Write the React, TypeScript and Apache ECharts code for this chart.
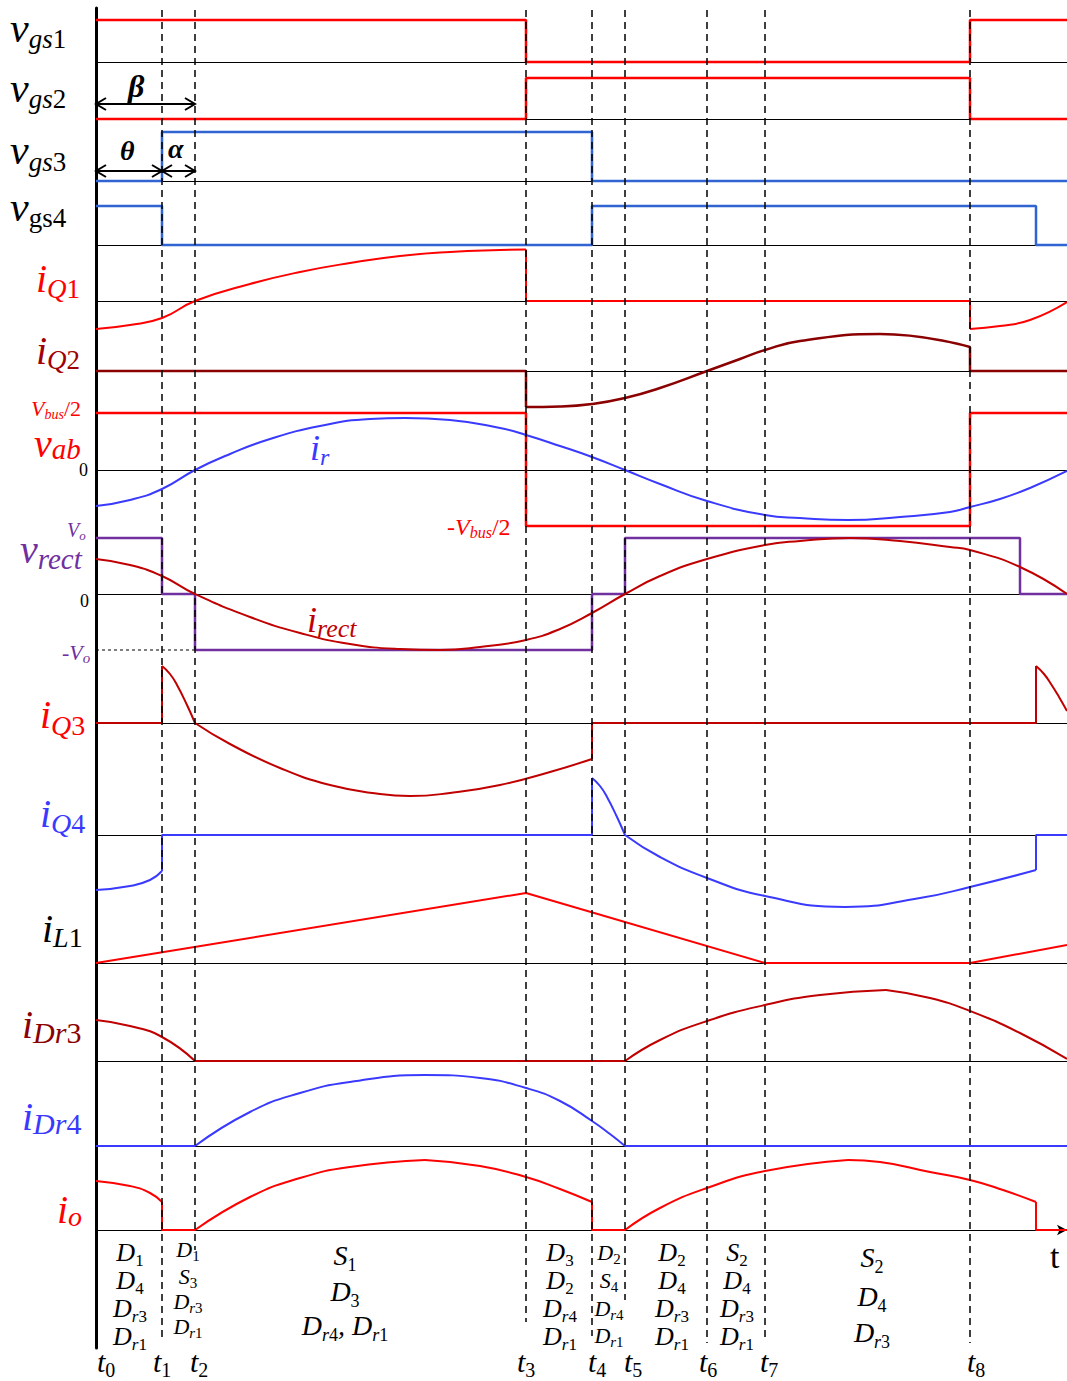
import React, { useEffect, useRef } from 'react';
import * as echarts from 'echarts';

// ---------------- data ----------------
// time instants t0..t8 (time units; t0 at the left axis)
const timePoints = [0, 66, 99, 430, 496, 529, 611, 669, 874];
const timeLabels = ['t_0', 't_1', 't_2', 't_3', 't_4', 't_5', 't_6', 't_7', 't_8'];
const timeEnd = 971;

// row names and the page height of each row's zero line
const rowNames = ['vgs1', 'vgs2', 'vgs3', 'vgs4', 'iQ1', 'iQ2', 'vab', 'vrect', 'iQ3', 'iQ4', 'iL1', 'iDr3', 'iDr4', 'io'];
const rowBaselines = [62, 119, 181, 245, 301, 371, 470, 594, 723, 835, 963, 1061, 1146, 1230];

// gate signals
const vgs1Wave = [[0, 42], [430, 42], [430, 0], [874, 0], [874, 42], [971, 42]];
const vgs2Wave = [[0, 0], [430, 0], [430, 41], [874, 41], [874, 0], [971, 0]];
const vgs3Wave = [[0, 0], [66, 0], [66, 49], [496, 49], [496, 0], [971, 0]];
const vgs4Wave = [[0, 39], [66, 39], [66, 0], [496, 0], [496, 39], [940, 39], [940, 0], [971, 0]];

// iQ1
const iQ1CurveA = [[0, -28], [34, -24], [66, -17], [99, 0], [154, 17], [204, 29], [254, 38], [304, 45], [354, 49], [404, 51], [430, 51.5]];
const iQ1Step = [[430, 51.5], [430, 0], [874, 0], [874, -28]];
const iQ1CurveB = [[874, -28], [904, -25], [934, -19], [971, -1]];

// iQ2
const iQ2Step1 = [[0, 0], [430, 0], [430, -36]];
const iQ2Curve = [[430, -36], [464, -35.5], [496, -33], [529, -27], [564, -17], [611, 0], [644, 12], [669, 21], [704, 30], [784, 37], [874, 24]];
const iQ2Step2 = [[874, 24], [874, 0], [971, 0]];

// vab and ir
const vabWave = [[0, 57], [430, 57], [430, -56], [874, -56], [874, 57], [971, 57]];
const irCurve = [[0, -36], [34, -30], [66, -19], [99, 0], [134, 16], [174, 31], [224, 44], [274, 51], [309, 52], [354, 50], [404, 42], [430, 35], [464, 24], [496, 13], [529, 0], [564, -14], [611, -31], [669, -45], [704, -48], [752, -50], [804, -47], [854, -42], [874, -37], [904, -29], [934, -18], [971, -1]];

// vrect and irect
const vrectWave = [[0, 56], [66, 56], [66, 0], [99, 0], [99, -56], [496, -56], [496, 0], [529, 0], [529, 56], [924, 56], [924, 0], [971, 0]];
const voGuide = [[0, -56], [99, -56]];
const irectCurve = [[0, 35], [34, 29], [66, 18], [99, 0], [154, -23], [204, -39], [254, -50], [304, -55], [344, -56], [384, -53], [430, -46], [464, -35], [496, -19], [529, 0], [564, 18], [611, 35], [669, 49], [704, 53], [754, 56], [804, 53], [854, 47], [874, 44], [924, 27], [971, 0]];

// iQ3
const iQ3Step1 = [[0, 0], [66, 0], [66, 57]];
const iQ3CurveA = [[66, 57], [74, 49], [81, 38], [91, 18], [99, 0]];
const iQ3CurveB = [[99, 0], [134, -21], [184, -45], [234, -62], [284, -71], [314, -73], [354, -70], [404, -62], [454, -49], [496, -36]];
const iQ3Step2 = [[496, -36], [496, 0], [940, 0], [940, 57]];
const iQ3CurveC = [[940, 57], [948, 49], [955, 39], [963, 26], [971, 12]];

// iQ4
const iQ4CurveA = [[0, -55], [34, -51], [54, -45], [66, -36]];
const iQ4Step1 = [[66, -36], [66, 0], [496, 0], [496, 57]];
const iQ4CurveB = [[496, 57], [504, 49], [511, 38], [521, 18], [529, 0]];
const iQ4CurveC = [[529, 0], [564, -22], [611, -43], [669, -61], [749, -72], [824, -63], [874, -52], [940, -35]];
const iQ4Step2 = [[940, -35], [940, 0], [971, 0]];

// iL1
const iL1Wave = [[0, 0], [430, 70], [669, 0], [874, 0], [971, 18]];

// iDr3
const iDr3CurveA = [[0, 41], [34, 35], [66, 24], [99, 0]];
const iDr3Flat = [[99, 0], [529, 0]];
const iDr3CurveB = [[529, 0], [564, 21], [611, 40], [669, 56], [724, 66], [790, 71]];
const iDr3CurveC = [[790, 71], [834, 63], [874, 50], [924, 28], [971, 2]];

// iDr4
const iDr4Flat1 = [[0, 0], [99, 0]];
const iDr4Curve = [[99, 0], [154, 34], [204, 53], [254, 64], [329, 71], [384, 68], [430, 58], [464, 45], [496, 25], [514, 12], [529, 0]];
const iDr4Flat2 = [[529, 0], [971, 0]];

// io
const ioCurveA = [[0, 49], [34, 44], [54, 37], [66, 28]];
const ioStep1 = [[66, 28], [66, 0], [99, 0]];
const ioCurveB = [[99, 0], [154, 33], [204, 52], [254, 63], [329, 70]];
const ioCurveC = [[329, 70], [384, 64], [430, 53], [464, 41], [496, 28]];
const ioStep2 = [[496, 28], [496, 0], [529, 0]];
const ioCurveD = [[529, 0], [564, 22], [611, 42], [669, 59], [752, 70]];
const ioCurveE = [[752, 70], [784, 68], [834, 58], [874, 50], [907, 40], [940, 28]];
const ioStep3 = [[940, 28], [940, 0], [971, 0]];

// ---------------- styles / layout ----------------
const X0 = 96;
const SPAN = 971;
const RED = '#ff0000';
const DARKRED = '#8b0000';
const CRIMSON = '#c00000';
const BLUE_G = '#2f64d2';
const BLUE = '#3a3aff';
const PURPLE = '#7030a0';
const BLACK = '#000000';
const FONT = '"Liberation Serif", "Times New Roman", serif';

const rowExtent = rowNames.map((_, i) => (i === 0 ? { up: 50, down: 60 } : { up: 80, down: 80 }));

type Piece = [number[][], boolean];
interface Wave { row: number; color: string; width: number; pieces: Piece[]; dash?: number[]; z?: number }

const waves: Wave[] = [
  { row: 0, color: RED, width: 2.5, pieces: [[vgs1Wave, false]] },
  { row: 1, color: RED, width: 2.5, pieces: [[vgs2Wave, false]] },
  { row: 2, color: BLUE_G, width: 2.5, pieces: [[vgs3Wave, false]] },
  { row: 3, color: BLUE_G, width: 2.5, pieces: [[vgs4Wave, false]] },
  { row: 4, color: RED, width: 2, pieces: [[iQ1CurveA, true], [iQ1Step, false], [iQ1CurveB, true]] },
  { row: 5, color: DARKRED, width: 2.5, pieces: [[iQ2Step1, false], [iQ2Curve, true], [iQ2Step2, false]] },
  { row: 6, color: RED, width: 2.5, pieces: [[vabWave, false]] },
  { row: 6, color: BLUE, width: 2, pieces: [[irCurve, true]], z: 4 },
  { row: 7, color: BLACK, width: 1, dash: [3, 3], pieces: [[voGuide, false]] },
  { row: 7, color: PURPLE, width: 2.5, pieces: [[vrectWave, false]] },
  { row: 7, color: CRIMSON, width: 2, pieces: [[irectCurve, true]], z: 4 },
  { row: 8, color: CRIMSON, width: 2, pieces: [[iQ3Step1, false], [iQ3CurveA, true], [iQ3CurveB, true], [iQ3Step2, false], [iQ3CurveC, true]] },
  { row: 9, color: BLUE, width: 2, pieces: [[iQ4CurveA, true], [iQ4Step1, false], [iQ4CurveB, true], [iQ4CurveC, true], [iQ4Step2, false]] },
  { row: 10, color: RED, width: 2, pieces: [[iL1Wave, false]] },
  { row: 11, color: CRIMSON, width: 2, pieces: [[iDr3CurveA, true], [iDr3Flat, false], [iDr3CurveB, true], [iDr3CurveC, true]] },
  { row: 12, color: BLUE, width: 2, pieces: [[iDr4Flat1, false], [iDr4Curve, true], [iDr4Flat2, false]] },
  { row: 13, color: RED, width: 2, pieces: [[ioCurveA, true], [ioStep1, false], [ioCurveB, true], [ioCurveC, true], [ioStep2, false], [ioCurveD, true], [ioCurveE, true], [ioStep3, false]] },
];

// page y where each dashed line (t1..t8) stops
const dashBottoms = [1337, 1250, 1322, 1336, 1300, 1343, 1340, 1343];

// ---------------- text helpers ----------------
let measureCtx: CanvasRenderingContext2D | null = null;
function fontStr(size: number, italic: boolean, bold = false) {
  return `${italic ? 'italic ' : ''}${bold ? 'bold ' : ''}${size}px ${FONT}`;
}
function measure(text: string, font: string) {
  if (!measureCtx) measureCtx = document.createElement('canvas').getContext('2d');
  if (!measureCtx) return text.length * 10;
  measureCtx.font = font;
  return measureCtx.measureText(text).width;
}
function parseFormula(str: string): [string, boolean][] {
  const out: [string, boolean][] = [];
  const re = /_([A-Za-z0-9]+)/g;
  let last = 0;
  let m: RegExpExecArray | null;
  while ((m = re.exec(str))) {
    if (m.index > last) out.push([str.slice(last, m.index), false]);
    out.push([m[1], true]);
    last = re.lastIndex;
  }
  if (last < str.length) out.push([str.slice(last), false]);
  return out;
}
function textEl(x: number, base: number, text: string, size: number, italic: boolean, color: string, bold = false) {
  const font = fontStr(size, italic, bold);
  return {
    type: 'text', x, y: base - 0.34 * size, z: 20, silent: true,
    style: { text, font, fill: color, align: 'left', verticalAlign: 'middle', textAlign: 'left', textVerticalAlign: 'middle' },
  };
}
function formula(x: number, base: number, color: string, str: string, size: number, subSize: number, dy: number,
  align: 'left' | 'center' = 'left', subUpright = false) {
  const parts: { t: string; size: number; italic: boolean; dy: number }[] = [];
  parseFormula(str).forEach(([t, isSub]) => {
    const runs = t.match(/[0-9\/]+|[^0-9\/]+/g) || [];
    runs.forEach((r) => {
      const upright = /^[0-9\/]+$/.test(r) || (isSub && subUpright);
      parts.push({ t: r, size: isSub ? subSize : size, italic: !upright, dy: isSub ? dy : 0 });
    });
  });
  const widths = parts.map((p) => measure(p.t, fontStr(p.size, p.italic)));
  const total = widths.reduce((a, b) => a + b, 0);
  let cx = align === 'center' ? x - total / 2 : x;
  return parts.map((p, i) => {
    const el = textEl(cx, base + p.dy, p.t, p.size, p.italic, color);
    cx += widths[i];
    return el;
  });
}

const leftLabels = [
  { x: 10, base: 42, color: BLACK, s: 'v_gs1', size: 42, sub: 27, dy: 6 },
  { x: 10, base: 102, color: BLACK, s: 'v_gs2', size: 42, sub: 27, dy: 6 },
  { x: 10, base: 164, color: BLACK, s: 'v_gs3', size: 42, sub: 27, dy: 7 },
  { x: 10, base: 221, color: BLACK, s: 'v_gs4', size: 42, sub: 27, dy: 6, up: true },
  { x: 36, base: 292, color: RED, s: 'i_Q1', size: 40, sub: 27, dy: 6 },
  { x: 36, base: 364, color: '#a00000', s: 'i_Q2', size: 40, sub: 27, dy: 5 },
  { x: 31, base: 416, color: RED, s: 'V_bus/2', size: 22, sub: 14, dy: 3 },
  { x: 34, base: 457, color: RED, s: 'v_ab', size: 40, sub: 29, dy: 2 },
  { x: 79, base: 476, color: BLACK, s: '0', size: 18, sub: 12, dy: 0 },
  { x: 67, base: 537, color: PURPLE, s: 'V_o', size: 20, sub: 13, dy: 3 },
  { x: 20, base: 563, color: PURPLE, s: 'v_rect', size: 40, sub: 29, dy: 6 },
  { x: 80, base: 607, color: BLACK, s: '0', size: 18, sub: 12, dy: 0 },
  { x: 62, base: 660, color: PURPLE, s: '-V_o', size: 22, sub: 15, dy: 3 },
  { x: 40, base: 728, color: RED, s: 'i_Q3', size: 40, sub: 28, dy: 7 },
  { x: 40, base: 827, color: BLUE, s: 'i_Q4', size: 40, sub: 28, dy: 6 },
  { x: 42, base: 942, color: BLACK, s: 'i_L1', size: 40, sub: 28, dy: 5 },
  { x: 22, base: 1038, color: DARKRED, s: 'i_Dr3', size: 40, sub: 30, dy: 5 },
  { x: 22, base: 1130, color: BLUE, s: 'i_Dr4', size: 40, sub: 30, dy: 4 },
  { x: 57, base: 1223, color: RED, s: 'i_o', size: 40, sub: 28, dy: 3 },
  { x: 310, base: 460, color: BLUE, s: 'i_r', size: 36, sub: 24, dy: 5 },
  { x: 307, base: 632, color: CRIMSON, s: 'i_rect', size: 36, sub: 26, dy: 5 },
  { x: 447, base: 535, color: RED, s: '-V_bus/2', size: 24, sub: 16, dy: 3 },
];

const modeColumns = [
  { cx: 130, size: 26, lines: ['D_1', 'D_4', 'D_r3', 'D_r1'], bases: [1261, 1289, 1317, 1345] },
  { cx: 188, size: 22, lines: ['D_1', 'S_3', 'D_r3', 'D_r1'], bases: [1257, 1284, 1309, 1334] },
  { cx: 345, size: 28, lines: ['S_1', 'D_3', 'D_r4, D_r1'], bases: [1265, 1301, 1335] },
  { cx: 560, size: 26, lines: ['D_3', 'D_2', 'D_r4', 'D_r1'], bases: [1261, 1289, 1317, 1345] },
  { cx: 609, size: 22, lines: ['D_2', 'S_4', 'D_r4', 'D_r1'], bases: [1260, 1288, 1316, 1343] },
  { cx: 672, size: 26, lines: ['D_2', 'D_4', 'D_r3', 'D_r1'], bases: [1261, 1289, 1317, 1345] },
  { cx: 737, size: 26, lines: ['S_2', 'D_4', 'D_r3', 'D_r1'], bases: [1261, 1289, 1317, 1345] },
  { cx: 872, size: 28, lines: ['S_2', 'D_4', 'D_r3'], bases: [1267, 1306, 1342] },
];

const timeLabelLeft = [97, 153, 190, 517, 588, 624, 699, 760, 967];

function chevron(tipX: number, y: number, dir: number) {
  return {
    type: 'polyline', z: 20, silent: true,
    shape: { points: [[tipX - dir * 10, y - 6], [tipX, y], [tipX - dir * 10, y + 6]] },
    style: { stroke: BLACK, lineWidth: 2, fill: 'none' },
  };
}
function hline(x1: number, x2: number, y: number) {
  return { type: 'line', z: 20, silent: true, shape: { x1, y1: y, x2, y2: y }, style: { stroke: BLACK, lineWidth: 2 } };
}

function buildOption() {
  const grid: any[] = [];
  const xAxis: any[] = [];
  const yAxis: any[] = [];
  const series: any[] = [];
  const hidden = { axisTick: { show: false }, axisLabel: { show: false }, splitLine: { show: false } };

  rowBaselines.forEach((base, i) => {
    const ext = rowExtent[i];
    grid.push({ left: X0, width: SPAN, top: base - ext.up, height: ext.up + ext.down, containLabel: false, outerBoundsMode: 'none' });
    xAxis.push({
      type: 'value', gridIndex: i, min: 0, max: timeEnd, ...hidden,
      axisLine: {
        show: true, onZero: true, lineStyle: { color: BLACK, width: 1 },
        symbol: i === rowBaselines.length - 1 ? ['none', 'arrow'] : ['none', 'none'], symbolSize: [8, 10],
      },
    });
    yAxis.push({ type: 'value', gridIndex: i, min: -ext.down, max: ext.up, ...hidden, axisLine: { show: false } });
  });

  // overlay grid: thick time axis and dashed instants
  const ov = rowBaselines.length;
  const ovTop = 8;
  const ovBottom = 1348;
  grid.push({ left: X0, width: SPAN, top: ovTop, height: ovBottom - ovTop, containLabel: false, outerBoundsMode: 'none' });
  xAxis.push({ type: 'value', gridIndex: ov, min: 0, max: timeEnd, show: false });
  yAxis.push({
    type: 'value', gridIndex: ov, min: 0, max: ovBottom - ovTop, inverse: true, ...hidden,
    axisLine: { show: true, onZero: false, lineStyle: { color: BLACK, width: 3 } },
  });

  waves.forEach((w) => {
    w.pieces.forEach(([data, smooth]) => {
      series.push({
        type: 'line', xAxisIndex: w.row, yAxisIndex: w.row, data,
        smooth: smooth ? 0.5 : false,
        symbol: 'none', showSymbol: false, silent: true, clip: false, z: w.z ?? 3,
        emphasis: { disabled: true },
        lineStyle: { color: w.color, width: w.width, type: w.dash ?? 'solid' },
      });
    });
  });

  series.push({
    type: 'line', xAxisIndex: ov, yAxisIndex: ov, data: [[0, 0]], symbol: 'none', showSymbol: false,
    lineStyle: { opacity: 0 }, silent: true, z: 6,
    markLine: {
      silent: true, symbol: ['none', 'none'], label: { show: false },
      lineStyle: { type: [7, 5], color: BLACK, width: 1.5 },
      emphasis: { disabled: true },
      data: timePoints.slice(1).map((t, i) => [
        { coord: [t, 2] },
        { coord: [t, dashBottoms[i] - ovTop] },
      ]),
    },
  });

  const graphic: any[] = [];
  leftLabels.forEach((l: any) => graphic.push(...formula(l.x, l.base, l.color, l.s, l.size, l.sub, l.dy, 'left', !!l.up)));
  modeColumns.forEach((c) => c.lines.forEach((line, k) =>
    graphic.push(...formula(c.cx, c.bases[k], BLACK, line, c.size, Math.round(c.size * 0.66), Math.round(c.size * 0.2), 'center'))));
  timeLabels.forEach((t, i) => graphic.push(...formula(timeLabelLeft[i], 1372, BLACK, t, 30, 20, 5)));
  graphic.push(textEl(1050, 1268, 't', 34, false, BLACK));

  // beta / theta / alpha interval arrows
  const xa = X0 + timePoints[0];
  const x1 = X0 + timePoints[1];
  const x2 = X0 + timePoints[2];
  graphic.push(hline(xa, x2, 104), chevron(xa, 104, -1), chevron(x2, 104, 1));
  graphic.push(hline(xa, x2, 171), chevron(xa, 171, -1), chevron(x1, 171, 1), chevron(x1, 171, -1), chevron(x2, 171, 1));
  graphic.push(textEl(128, 97, 'β', 32, true, BLACK, true));
  graphic.push(textEl(120, 160, 'θ', 28, true, BLACK, true));
  graphic.push(textEl(168, 158, 'α', 28, true, BLACK, true));

  return { animation: false, backgroundColor: '#ffffff', grid, xAxis, yAxis, series, graphic };
}

export default function App() {
  const ref = useRef<HTMLDivElement>(null);
  useEffect(() => {
    if (!ref.current) return;
    const chart = echarts.init(ref.current, null, { renderer: 'svg' });
    chart.setOption(buildOption() as any);
    return () => chart.dispose();
  }, []);
  return (
    <div
      ref={ref}
      style={{ position: 'absolute', left: 0, top: 0, width: 1067, height: 1381, background: '#ffffff' }}
    />
  );
}
